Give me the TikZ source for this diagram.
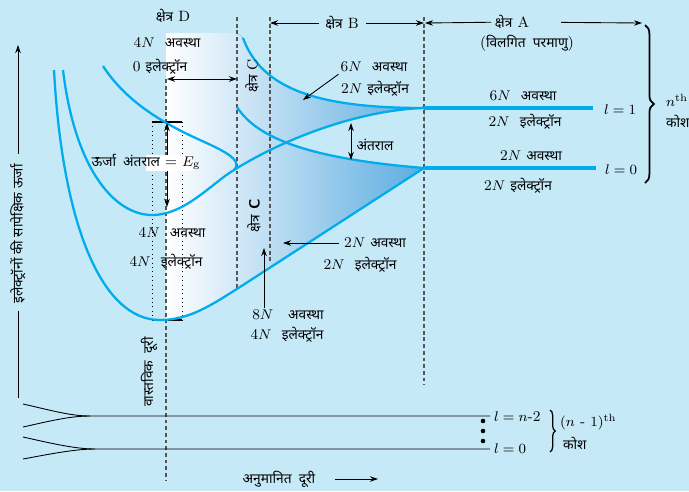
\documentclass[tikz,border=0pt]{standalone}
\usepackage{fontspec}
\newfontfamily\dev[Script=Devanagari,Scale=0.92]{Noto Sans}
\usepackage{xcolor}
\definecolor{bgBlue}{RGB}{198,233,248}
\definecolor{bandCyan}{RGB}{0,172,236}
\definecolor{shadeBlue}{RGB}{92,172,224}
\definecolor{dashGray}{RGB}{85,85,85}
\usepackage{tikz}
\usetikzlibrary{arrows.meta,decorations.pathreplacing}

\begin{document}
\begin{tikzpicture}[x=0.02cm,y=-0.02cm,
  t/.style={font=\fontsize{8.5}{10}\selectfont,inner sep=1pt},
  band/.style={bandCyan,line width=1.3pt},
  lvl/.style={bandCyan,line width=2.2pt},
  dsh/.style={dashGray,line width=0.6pt,dash pattern=on 2.2pt off 1.6pt},
  dot/.style={black,line width=0.5pt,dotted},
  hair/.style={black,line width=0.5pt},
  bar/.style={black,line width=0.9pt},
  a/.style={-{Stealth[length=1.6mm,width=1.1mm]},black,line width=0.5pt},
  aa/.style={{Stealth[length=1.6mm,width=1.1mm]}-{Stealth[length=1.6mm,width=1.1mm]},black,line width=0.5pt}]
  \fill[bgBlue] (0,0) rectangle (689,491);
  \useasboundingbox (0,0) rectangle (689,491);
  % shaded bands
  \fill[left color=white,right color=shadeBlue] (166,320) .. controls (192,320) and (213,304) .. (240,287) -- (424,168)
    -- (424,108) .. controls (320,108) and (262,90) .. (243,38) -- (237,33) -- (166,33) -- cycle;
  \begin{scope}
    \clip (234,170) .. controls (285,138) and (360,110) .. (424,108) -- (424,300) -- (234,300) -- cycle;
    \fill[bgBlue] (237,107) .. controls (255,135) and (300,158) .. (424,168) -- (424,0) -- (237,0) -- cycle;
  \end{scope}
  % region borders
  \draw[dsh] (166,79) -- (166,480);
  \draw[dsh] (237,17) -- (237,290);
  \draw[dsh] (270,17) -- (270,262);
  \draw[dsh] (424,17) -- (424,385);
  \draw[dot] (152,122) -- (152,320);
  \draw[dot] (182,122) -- (182,320);
  \draw[bar] (152,122) -- (182,122);
  \draw[bar] (152,320) -- (182,320);
  % band edges
  \draw[band] (54,70) .. controls (62,220) and (100,320) .. (160,320) .. controls (190,320) and (213,304) .. (240,287) -- (424,168);
  \draw[band] (63,70) .. controls (75,170) and (115,215) .. (152,215) .. controls (185,215) and (212,183) .. (234,170)
    .. controls (285,138) and (360,110) .. (424,108);
  \draw[band] (103,66) .. controls (125,100) and (160,122) .. (200,140) .. controls (222,150) and (244,160) .. (234,170);
  \draw[band] (243,38) .. controls (262,90) and (320,108) .. (424,108);
  \draw[band] (237,107) .. controls (255,135) and (300,158) .. (424,168);
  \draw[lvl] (424,108) -- (593,108);
  \draw[lvl] (424,168) -- (596,168);

  % region D
  \node[t] (regD) at (173,16) {{\dev क्षेत्र} D};
  \node[t] (dStates) at (167,43) {4$N$\ \ {\dev अवस्था}};
  \node[t] (dElec) at (160,67) {0 {\dev इलेक्ट्रॉन}};
  \coordinate (dL) at (167,79);
  \coordinate (dR) at (237,79);
  \draw[aa] (dL) -- (dR);
  \coordinate (gapTop) at (167,123);
  \coordinate (gapBot) at (167,207);
  \draw[aa] (gapTop) -- (gapBot);
  \fill[white] (146,155) rectangle (192,171);
  \node[t] (egLbl) at (146,162) {{\dev ऊर्जा\ \ अंतराल} = $E_{\rm g}$};
  \node[t] (dFour) at (172,233) {4$N$\ \ {\dev अवस्था}};
  \node[t] (dFourE) at (166,262) {4$N$\ \ {\dev इलेक्ट्रॉन}};
  \node[t,rotate=90] (realD) at (149,372) {\dev वास्तविक\ \ दूरी};

  % region C
  \node[t,rotate=90] (regC1) at (252,76) {{\dev क्षेत्र} C};
  \node[t,rotate=90] (regC2) at (254,216) {{\dev क्षेत्र} \textsf{\textbf{C}}};
  \node[t] (eight) at (288,315) {8$N$\quad {\dev अवस्था}};
  \node[t] (eightE) at (287,335) {4$N$\ \ {\dev इलेक्ट्रॉन}};
  \coordinate (eightTip) at (264,248);
  \draw[a] (eight.north -| eightTip) -- (eightTip);

  % region B
  \node[t] (regB) at (342,23) {{\dev क्षेत्र} B};
  \coordinate (bL) at (270,23);
  \coordinate (bR) at (424,23);
  \draw[a,shorten <=2.5pt] (regB) -- (bL);
  \draw[a,shorten <=3pt] (regB) -- (bR);
  \node[t] (bSix) at (374,67) {6$N$\ \ {\dev अवस्था}};
  \node[t] (bSixE) at (375,89) {2$N$\ {\dev इलेक्ट्रॉन}};
  \coordinate (bSixTip) at (303,100);
  \draw[a] (bSix.south west) -- (bSixTip);
  \node[t] (gapLbl) at (375,145) {\dev अंतराल};
  \coordinate (gT) at (351,123);
  \coordinate (gB) at (351,160);
  \draw[aa] (gT) -- (gB);
  \node[t] (cTwo) at (375,243) {2$N$ {\dev अवस्था}};
  \node[t] (cTwoE) at (360,265) {2$N$\ \ {\dev इलेक्ट्रॉन}};
  \coordinate (cTwoTip) at (283,243);
  \draw[a,shorten <=2pt] (cTwo.west) -- (cTwoTip);

  % region A
  \node[t] (regA) at (512,22) {{\dev क्षेत्र} A};
  \node[t] (isoA) at (527,43) {({\dev विलगित\ \ परमाणु})};
  \coordinate (aL) at (425,23);
  \coordinate (aR) at (642,23);
  \draw[a,shorten <=1pt] (regA) -- (aL);
  \draw[a,shorten <=17pt] (regA) -- (aR);
  \node[t] (aSix) at (523,96) {6$N$\ \ {\dev अवस्था}};
  \node[t] (aSixE) at (525,122) {2$N$\ \ {\dev इलेक्ट्रॉन}};
  \node[t] (aTwo) at (531,156) {2$N$ {\dev अवस्था}};
  \node[t] (aTwoE) at (518,186) {2$N$\ {\dev इलेक्ट्रॉन}};
  \node[t] (l1) at (620,110) {$l = 1$};
  \node[t] (l0) at (621,170) {$l = 0$};
  \draw[decorate,decoration={brace,amplitude=5pt},line width=1pt] (645,25) -- (645,183);
  \node[t,anchor=west] (nth) at (664,100) {$n^{\rm th}$};
  \node[t,anchor=west] (kosh) at (664,121) {\dev कोश};

  % energy axis
  \node[t,rotate=90] (yLbl) at (18,234) {\dev इलेक्ट्रॉनों की सापेक्षिक ऊर्जा};
  \coordinate (yTop) at (18,45);
  \coordinate (yBot) at (18,398);
  \draw[a,shorten <=5pt] (yLbl.east) -- (yTop);
  \draw[hair,shorten <=3pt] (yLbl.west) -- (yBot);

  % inner shell
  \draw[hair] (23,404) .. controls (50,410) and (70,416) .. (90,416) -- (490,416);
  \draw[hair] (23,427) .. controls (50,421) and (70,416) .. (90,416);
  \draw[hair] (23,437) .. controls (50,443) and (75,449) .. (95,449) -- (490,449);
  \draw[hair] (23,459) .. controls (50,454) and (75,449) .. (95,449);
  \fill (483,421) circle (1.3pt);
  \fill (483,431) circle (1.3pt);
  \fill (483,441) circle (1.3pt);
  \node[t,anchor=west] (lnm) at (492,417) {$l = n$-2};
  \node[t,anchor=west] (lz) at (492,449) {$l = 0$};
  \draw[decorate,decoration={brace,amplitude=3pt},line width=0.7pt] (550,410) -- (550,452);
  \node[t,anchor=west] (nm1) at (558,422) {$(n$ - $1)^{\rm th}$};
  \node[t,anchor=west] (kosh2) at (561,443) {\dev कोश};
  \node[t] (approx) at (279,479) {\dev अनुमानित\ \ दूरी};
  \coordinate (apTip) at (378,479);
  \draw[a,shorten <=10pt] (approx.east) -- (apTip);
\end{tikzpicture}
\end{document}
